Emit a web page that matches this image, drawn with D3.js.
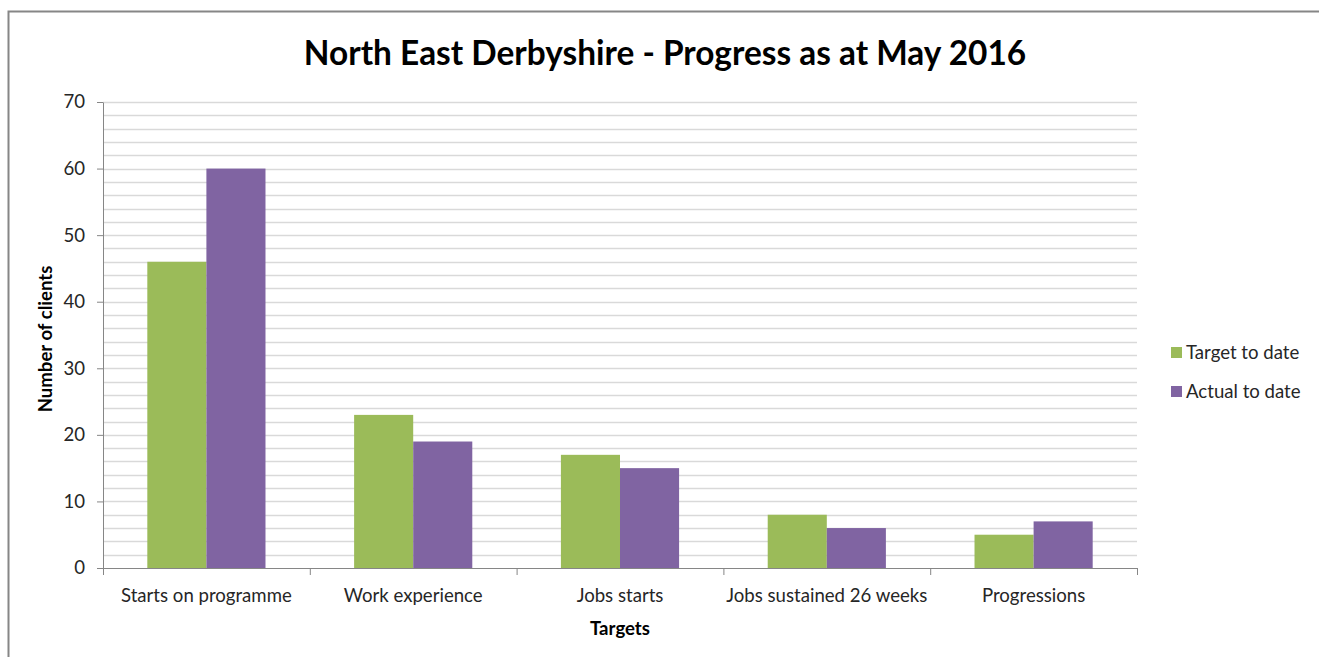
<!DOCTYPE html>
<html><head><meta charset="utf-8">
<script src="https://cdn.jsdelivr.net/npm/d3@7"></script>
<style>body{margin:0;background:#fff;} svg{display:block;}</style>
</head><body>
<script>
const categories = ["Starts on programme","Work experience","Jobs starts","Jobs sustained 26 weeks","Progressions"];
const targetToDate = [46,23,17,8,5];
const actualToDate = [60,19,15,6,7];
const seriesNames = ["Target to date","Actual to date"];
const seriesColors = ["#9BBB59","#8064A2"];
const yTicks = [0,10,20,30,40,50,60,70];
const gridTicks = d3.range(0,71,2);

const W=1319,H=657;
const font = "Lato, 'Open Sans', sans-serif";
const fs = 18.6;
const svg = d3.select("body").append("svg").attr("width",W).attr("height",H);
svg.append("rect").attr("x",8.5).attr("y",11.5).attr("width",1330).attr("height",700)
  .attr("fill","#fff").attr("stroke","#868686").attr("stroke-width",2);

const L=103,R=1137,T=102,B=568;
const x = d3.scaleBand().domain(categories).range([L,R]).paddingInner(0).paddingOuter(0);
const y = d3.scaleLinear().domain([0,70]).range([B,T]);
const inner = d3.scaleBand().domain([0,1]).range([0,x.bandwidth()]).paddingOuter(0.75).paddingInner(0);

// grid
svg.append("g").selectAll("line").data(gridTicks.filter(d=>d>0)).join("line")
  .attr("x1",L).attr("x2",R).attr("y1",d=>Math.round(y(d))+0.5).attr("y2",d=>Math.round(y(d))+0.5)
  .attr("stroke","#D9D9D9").attr("stroke-width",1.5);

// bars
const data = categories.map((c,i)=>({c,vals:[targetToDate[i],actualToDate[i]]}));
svg.append("g").selectAll("g").data(data).join("g")
  .attr("transform",d=>`translate(${x(d.c)},0)`)
  .selectAll("rect").data(d=>d.vals.map((v,j)=>({v,j}))).join("rect")
  .attr("x",d=>inner(d.j)).attr("width",inner.bandwidth())
  .attr("y",d=>y(d.v)).attr("height",d=>B-y(d.v))
  .attr("fill",d=>seriesColors[d.j]);

// y axis
const yAxis = svg.append("g").attr("transform",`translate(${L},0)`)
  .call(d3.axisLeft(y).tickValues(yTicks).tickSize(6).tickPadding(12).tickSizeOuter(0));
yAxis.select(".domain").attr("stroke","#868686");
yAxis.selectAll(".tick line").attr("stroke","#868686");
yAxis.selectAll("text").attr("font-family",font).attr("font-size",fs).attr("fill","#262626");

// x axis
const xAxis = svg.append("g").attr("transform",`translate(0,${B})`)
  .call(d3.axisBottom(x).tickSize(0).tickPadding(21).tickSizeOuter(0));
xAxis.select(".domain").attr("stroke","#868686");
xAxis.selectAll("text").attr("font-family",font).attr("font-size",fs).attr("fill","#262626");
const bounds = categories.map(c=>x(c)).concat([R]);
svg.append("g").selectAll("line").data(bounds).join("line")
  .attr("x1",d=>d+0.5).attr("x2",d=>d+0.5).attr("y1",B).attr("y2",B+7).attr("stroke","#868686");

// title
svg.append("text").attr("x",665).attr("y",65).attr("text-anchor","middle")
  .attr("font-family",font).attr("font-weight","bold").attr("font-size",33.4).attr("fill","#000")
  .text("North East Derbyshire - Progress as at May 2016");

// axis titles
svg.append("text").attr("transform","translate(52,339) rotate(-90)").attr("text-anchor","middle")
  .attr("font-family",font).attr("font-weight","bold").attr("font-size",fs).attr("fill","#000")
  .text("Number of clients");
svg.append("text").attr("x",620).attr("y",635).attr("text-anchor","middle")
  .attr("font-family",font).attr("font-weight","bold").attr("font-size",fs).attr("fill","#000")
  .text("Targets");

// legend
const lg = svg.append("g").selectAll("g").data(seriesNames).join("g")
  .attr("transform",(d,i)=>`translate(1171,${347+i*39})`);
lg.append("rect").attr("width",11).attr("height",11).attr("fill",(d,i)=>seriesColors[i]);
lg.append("text").attr("x",15).attr("y",12).attr("font-family",font).attr("font-size",fs).attr("fill","#262626").text(d=>d);
</script>
</body></html>
